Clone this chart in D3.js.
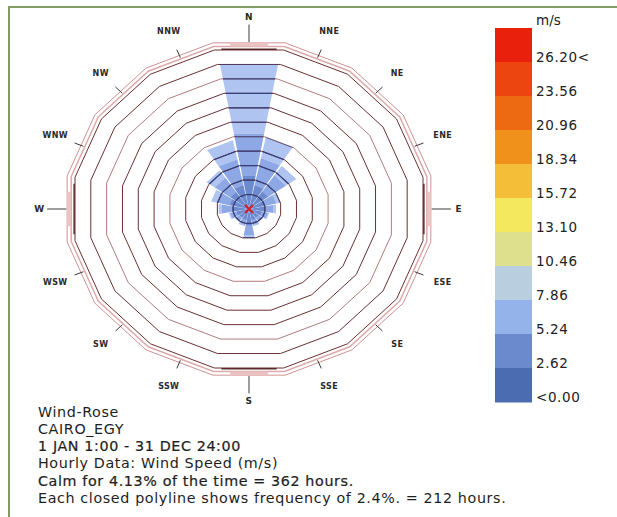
<!DOCTYPE html>
<html><head><meta charset="utf-8">
<script src="https://cdn.jsdelivr.net/npm/d3@7"></script>
<style>html,body{margin:0;padding:0;background:#fff;}svg{display:block;}</style>
</head><body>
<svg id="c" width="617" height="517"></svg>
<script>
// ---------- data ----------
const directions = ["N","NNE","NE","ENE","E","ESE","SE","SSE","S","SSW","SW","WSW","W","WNW","NW","NNW"];
const speedBins = ["<2.62","2.62-5.24","5.24-7.86"];
// frequency (%) per direction, per speed bin (stacked outward)
const binLow  = [5.5,4.0,3.5,2.6,2.4,2.0,1.8,1.9,2.8,1.9,1.8,2.0,2.6,3.0,3.4,4.0];
const binMid  = [7.0,4.5,3.2,1.6,1.3,0.9,0.7,0.8,1.5,0.8,0.7,0.9,1.5,2.0,2.8,4.3];
const binHigh = [11.5,3.5,1.9,0.6,0.4,0.2,0.1,0.2,0.5,0.2,0.1,0.2,0.5,0.8,1.5,3.2];
const binColors = ["#5f80cb","#83a1e2","#a9bff1"];
const ringStep = 2.4;      // % per closed polyline
const ringCount = 11;
const legendLabels = ["26.20<","23.56","20.96","18.34","15.72","13.10","10.46","7.86","5.24","2.62","<0.00"];
const legendColors = ["#e8200c","#ec4510","#ee6a12","#f0911c","#f5be38","#f4e85e","#dfe08e","#b9cedf","#93b3ea","#6a8acd","#4b6cb0"];
const infoLines = [
  "Wind-Rose",
  "CAIRO_EGY",
  "1 JAN 1:00 - 31 DEC 24:00",
  "Hourly Data: Wind Speed (m/s)",
  "Calm for 4.13% of the time = 362 hours.",
  "Each closed polyline shows frequency of 2.4%. = 212 hours."
];

// ---------- setup ----------
const svg = d3.select("#c");
svg.append("rect").attr("x",9).attr("y",7).attr("width",640).attr("height",540)
  .attr("fill","none").attr("stroke","#7f9c62").attr("stroke-width",2);

const cx = 249, cy = 209;
const maxPct = ringStep*ringCount;
const rx = d3.scaleLinear().domain([0,maxPct]).range([0,174]);
const ry = d3.scaleLinear().domain([0,maxPct]).range([0,159]);
const angle = d3.scalePoint().domain(directions).range([0,337.5]);
function pt(aDeg, pct){
  const a = aDeg*Math.PI/180;
  return [cx + Math.sin(a)*rx(pct), cy - Math.cos(a)*ry(pct)];
}
const sec = 22.5/2;
function ringPoly(pct){
  const r = pct/Math.cos(sec*Math.PI/180);
  return directions.map(d => pt(angle(d)+sec, r));
}
const line = d3.line().curve(d3.curveLinearClosed);

// ---------- bars ----------
const hw = 10.4;
function wedge(aDeg, p0, p1){
  const k = 1/Math.cos(hw*Math.PI/180);
  return [pt(aDeg-hw,p0*k),pt(aDeg+hw,p0*k),pt(aDeg+hw,p1*k),pt(aDeg-hw,p1*k)];
}
const stacks = [binLow,binMid,binHigh];
const segs = [];
directions.forEach((d,i)=>{
  let acc = 0;
  stacks.forEach((arr,b)=>{
    segs.push({dir:d, bin:b, p0:acc, p1:acc+arr[i]});
    acc += arr[i];
  });
});
const barG = svg.append("g");
barG.selectAll("path").data(segs.slice().sort((a,b)=>b.bin-a.bin)).join("path")
  .attr("d", s => line(wedge(angle(s.dir), s.p0, s.p1)))
  .attr("fill", s => binColors[s.bin]).attr("opacity",0.92);

// clip of bars
const defs = svg.append("defs");
const clip = defs.append("clipPath").attr("id","barclip");
directions.forEach((d,i)=>{
  const tot = binLow[i]+binMid[i]+binHigh[i];
  clip.append("path").attr("d", line(wedge(angle(d),0,tot)));
});

// ---------- rings ----------
const rings = d3.range(1, ringCount+1).map(k=>k*ringStep);
svg.append("g").selectAll("path").data(rings).join("path")
  .attr("d", r=>line(ringPoly(r))).attr("fill","none")
  .attr("stroke", (r,i)=> (i===4||i===8) ? "#b07c7c" : "#6a3030").attr("stroke-width",1);
svg.append("g").attr("clip-path","url(#barclip)").selectAll("path").data(rings).join("path")
  .attr("d", r=>line(ringPoly(r))).attr("fill","none")
  .attr("stroke","#34407e").attr("stroke-width",1.2);

// outer frame
[[maxPct*1.022,"#dcaaaa",1.5],[maxPct*1.045,"#cf9292",1.0]].forEach(([r,c,w])=>{
  svg.append("path").attr("d", line(ringPoly(r))).attr("fill","none").attr("stroke",c).attr("stroke-width",w);
});
// cardinal highlight marks on frame
["N","E","S","W"].forEach(d=>{
  const a = angle(d);
  const p1 = pt(a-6, maxPct*1.034/Math.cos(6*Math.PI/180)), p2 = pt(a+6, maxPct*1.034/Math.cos(6*Math.PI/180));
  svg.append("line").attr("x1",p1[0]).attr("y1",p1[1]).attr("x2",p2[0]).attr("y2",p2[1])
    .attr("stroke","#ebc3c3").attr("stroke-width",4);
  const q1 = pt(a-9, maxPct*1.005/Math.cos(9*Math.PI/180)), q2 = pt(a+9, maxPct*1.005/Math.cos(9*Math.PI/180));
  svg.append("line").attr("x1",q1[0]).attr("y1",q1[1]).attr("x2",q2[0]).attr("y2",q2[1])
    .attr("stroke","#5a2a2a").attr("stroke-width",1.5);
});

// ticks and labels
const card = new Set(["N","E","S","W"]);
directions.forEach(d=>{
  const a = angle(d);
  const t0 = pt(a, maxPct*(card.has(d)?1.05:1.03));
  const t1 = pt(a, maxPct*(card.has(d)?1.16:1.085));
  svg.append("line").attr("x1",t0[0]).attr("y1",t0[1]).attr("x2",t1[0]).attr("y2",t1[1])
    .attr("stroke","#3a3a3a").attr("stroke-width",1);
  const lp = pt(a, maxPct*1.205);
  svg.append("text").attr("x",lp[0]).attr("y",lp[1]).attr("text-anchor","middle")
    .attr("dominant-baseline","central").attr("font-family","DejaVu Sans").attr("font-weight","bold")
    .attr("font-size", card.has(d)?9:8).attr("letter-spacing",0.4).attr("fill","#2a2a2a").text(d);
});

// centre marker
const m = 4;
svg.append("path").attr("d",`M${cx-m},${cy-m}L${cx+m},${cy+m}M${cx+m},${cy-m}L${cx-m},${cy+m}`)
  .attr("stroke","#d0202e").attr("stroke-width",2.2);

// ---------- legend ----------
const ly = d3.scaleBand().domain(legendLabels).range([28,402]);
const lg = svg.append("g");
lg.selectAll("rect").data(legendLabels).join("rect")
  .attr("x",495).attr("y",d=>ly(d)).attr("width",37).attr("height",ly.bandwidth()+0.5)
  .attr("fill",(d,i)=>legendColors[i]);
lg.selectAll("text").data(legendLabels).join("text")
  .attr("x",536).attr("y",d=>ly(d)+ly.bandwidth()-0.5)
  .attr("font-family","DejaVu Sans").attr("font-size",13.5).attr("letter-spacing",0.6)
  .attr("fill","#222").text(d=>d);
lg.append("text").attr("x",536).attr("y",25).attr("font-family","DejaVu Sans").attr("font-size",13.5)
  .attr("fill","#222").text("m/s");

// ---------- info text ----------
svg.append("g").selectAll("text").data(infoLines).join("text")
  .attr("x",38).attr("y",(d,i)=>416.5+i*17.3)
  .attr("font-family","DejaVu Sans").attr("font-size",14.3).attr("letter-spacing",0.62)
  .attr("stroke",(d,i)=> (i===2||i===4)?"#1e1e1e":"none").attr("stroke-width",0.22)
  .attr("fill","#1e1e1e").text(d=>d);
</script>
</body></html>
